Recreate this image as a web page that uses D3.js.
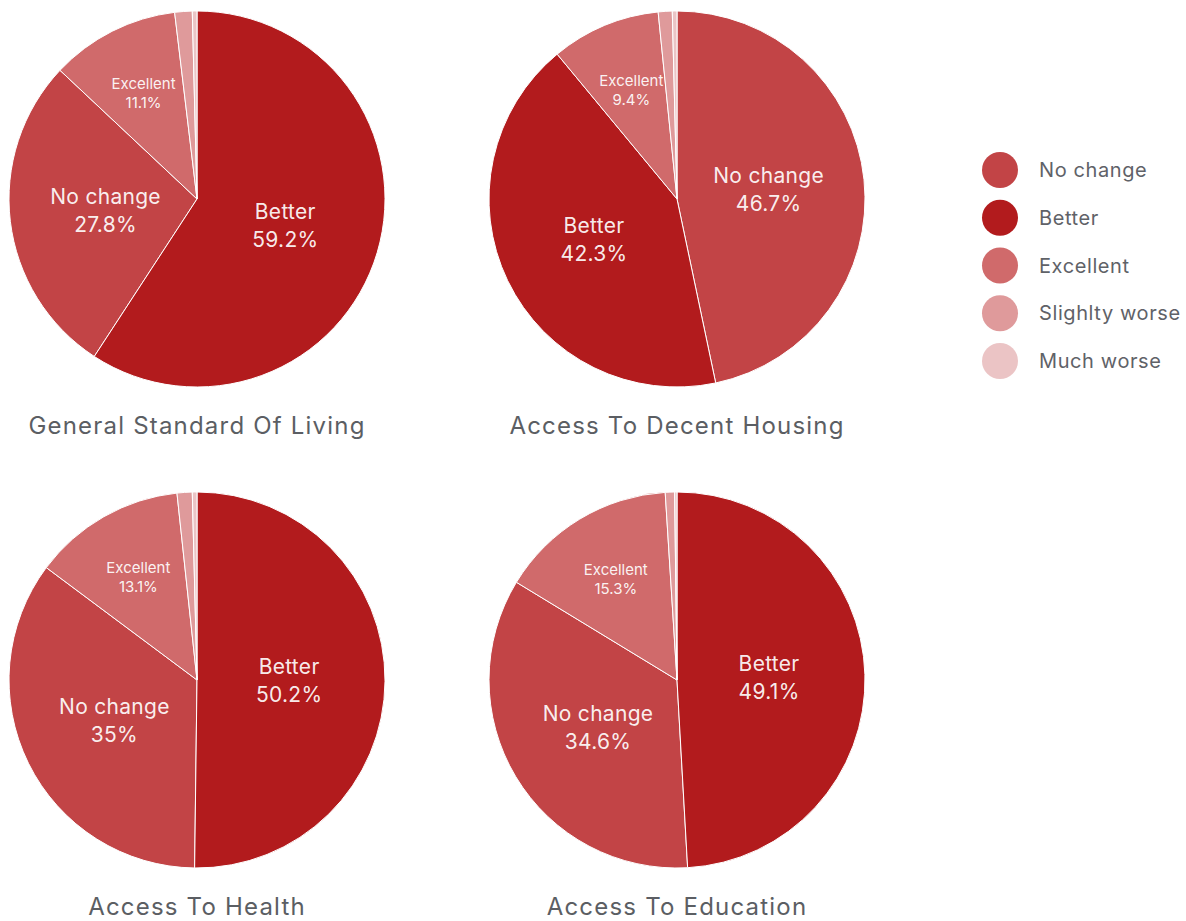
<!DOCTYPE html>
<html>
<head>
<meta charset="utf-8">
<script src="https://cdn.jsdelivr.net/npm/d3@7"></script>
<style>
  html, body { margin: 0; padding: 0; background: #ffffff; }
  svg { display: block; font-family: Inter, Lato, "Open Sans", sans-serif; }
</style>
</head>
<body>
<svg id="chart" width="1186" height="921"></svg>
<script>
// Response categories, in legend order
const categories = ["No change", "Better", "Excellent", "Slighlty worse", "Much worse"];
const colors = ["#c24446", "#b21b1d", "#d06a6b", "#df9a9b", "#ebc4c5"];

// One chart per topic
const titles = [
  "General Standard Of Living",
  "Access To Decent Housing",
  "Access To Health",
  "Access To Education"
];

// Percentages per topic, ordered like `categories`
const livingValues    = [27.8, 59.2, 11.1, 1.5, 0.4];
const housingValues   = [46.7, 42.3, 9.4, 1.2, 0.4];
const healthValues    = [35.0, 50.2, 13.1, 1.3, 0.4];
const educationValues = [34.6, 49.1, 15.3, 0.8, 0.2];

// Labels shown inside slices (the thin slices stay unlabelled)
const valueLabels = [
  ["27.8%", "59.2%", "11.1%", null, null],
  ["46.7%", "42.3%", "9.4%", null, null],
  ["35%", "50.2%", "13.1%", null, null],
  ["34.6%", "49.1%", "15.3%", null, null]
];

const seriesList = [livingValues, housingValues, healthValues, educationValues];

const svg = d3.select("#chart");
const color = d3.scaleOrdinal().domain(categories).range(colors);

const radius = 188;
const cols = d3.scalePoint().domain([0, 1]).range([197, 677]);
const rows = d3.scalePoint().domain([0, 1]).range([199, 680]);

const pie = d3.pie()
  .value(d => d.value)
  .sort((a, b) => b.value - a.value);

const arc = d3.arc().innerRadius(0).outerRadius(radius);

seriesList.forEach((values, i) => {
  const data = categories.map((c, k) => ({ category: c, value: values[k], label: valueLabels[i][k] }));
  const g = svg.append("g")
    .attr("transform", `translate(${cols(i % 2)},${rows(Math.floor(i / 2))})`);

  const arcs = pie(data);

  g.selectAll("path.slice")
    .data(arcs)
    .join("path")
    .attr("class", "slice")
    .attr("d", arc)
    .attr("fill", d => color(d.data.category))
    .attr("stroke", "#ffffff")
    .attr("stroke-width", 1);

  // Labels for the large slices sit closer to the centre, small ones further out
  const labelled = arcs.filter(d => d.data.label);
  const lg = g.selectAll("g.lbl")
    .data(labelled)
    .join("g")
    .attr("class", "lbl")
    .attr("transform", d => {
      const big = d.data.value > 20;
      const r = big ? radius * 0.49 : radius * 0.63;
      const a = (d.startAngle + d.endAngle) / 2;
      return `translate(${Math.sin(a) * r},${-Math.cos(a) * r})`;
    });

  lg.each(function (d) {
    const big = d.data.value > 20;
    const fs = big ? 21 : 15;
    const gap = big ? 28 : 19;
    const t = d3.select(this).append("text")
      .attr("text-anchor", "middle")
      .attr("fill", "#ffffff")
      .attr("fill-opacity", 0.93)
      .style("font-size", fs + "px")
      .style("letter-spacing", big ? "0.3px" : "0px");
    t.append("tspan").attr("x", 0).attr("y", -gap / 2 + fs * 0.36).text(d.data.category);
    t.append("tspan").attr("x", 0).attr("y", gap / 2 + fs * 0.36).text(d.data.label);
  });

  g.append("text")
    .attr("x", 0)
    .attr("y", radius + 47)
    .attr("text-anchor", "middle")
    .attr("fill", "#5b5e63")
    .style("font-size", "24px")
    .style("letter-spacing", "1.2px")
    .text(titles[i]);
});

// Legend
const legendY = d3.scalePoint().domain(categories).range([170, 361]);
const legend = svg.append("g");
const items = legend.selectAll("g")
  .data(categories)
  .join("g")
  .attr("transform", d => `translate(1000,${legendY(d)})`);

items.append("circle")
  .attr("r", 18)
  .attr("fill", d => color(d));

items.append("text")
  .attr("x", 39)
  .attr("y", 7)
  .attr("fill", "#5f6268")
  .style("font-size", "20px")
  .style("letter-spacing", "0.6px")
  .text(d => d);
</script>
</body>
</html>
